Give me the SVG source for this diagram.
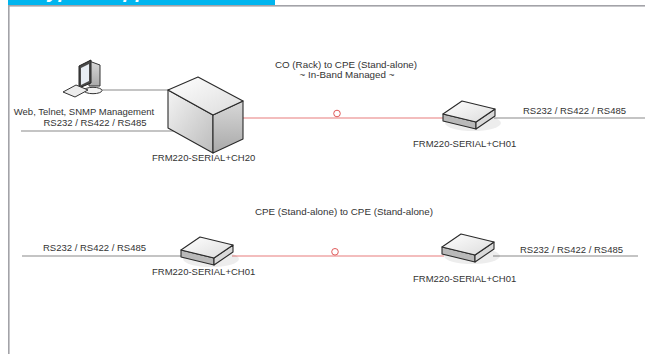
<svg xmlns="http://www.w3.org/2000/svg" width="645" height="354" viewBox="0 0 645 354">
  <style>
    .lbl { font-family: "Liberation Sans", Arial, sans-serif; font-size: 9.5px; fill: #333; }
    .ttl { font-family: "Liberation Sans", Arial, sans-serif; font-size: 9.8px; fill: #333; text-anchor: middle; }
    .serial { stroke: #8a8a8a; stroke-width: 1.2; fill: none; }
    .fiber { stroke: #e77c7c; stroke-width: 1.1; fill: none; }
    .ring { stroke: #e05a5a; stroke-width: 1; fill: #fff; }
    .edge { stroke: #2a2a2a; stroke-width: 1.1; stroke-linejoin: round; }
  </style>
  <defs>
    <linearGradient id="topFace" x1="0" y1="0" x2="1" y2="1">
      <stop offset="0" stop-color="#ffffff"/>
      <stop offset="1" stop-color="#dcdcdc"/>
    </linearGradient>
    <linearGradient id="frontFace" x1="0" y1="0" x2="1" y2="1">
      <stop offset="0" stop-color="#f4f4f4"/>
      <stop offset="1" stop-color="#bcbcbc"/>
    </linearGradient>
    <linearGradient id="sideFace" x1="0" y1="0" x2="0" y2="1">
      <stop offset="0" stop-color="#d8d8d8"/>
      <stop offset="1" stop-color="#a9a9a9"/>
    </linearGradient>
    <!-- small stand-alone unit, origin at its left corner -->
    <g id="unit">
      <ellipse cx="30" cy="9" rx="28" ry="8" fill="#000" opacity="0.07"/>
      <polygon class="edge" points="0,7 33,15 33,8 0,0" fill="#b9b9b9"/>
      <polygon class="edge" points="33,15 52,2 52,-5 33,8" fill="#d9d9d9"/>
      <polygon class="edge" points="0,0 19,-13 52,-5 33,8" fill="url(#topFace)"/>
    </g>
  </defs>

  <!-- page frame and header bar -->
  <rect x="8" y="0" width="267" height="5.5" fill="#00b5ef"/>
  <text x="36" y="-2" font-family="'Liberation Sans', Arial, sans-serif" font-size="20" font-weight="bold" font-style="italic" fill="#fff">Typical Application</text>
  <rect x="8" y="5" width="637" height="1.6" fill="#a3a3a8"/>
  <rect x="8" y="5" width="1.6" height="349" fill="#a3a3a8"/>

  <!-- connectors -->
  <g id="connectors">
    <line class="serial" x1="102" y1="90" x2="170" y2="90"/>
    <line class="serial" x1="21" y1="131" x2="184" y2="131"/>
    <line class="fiber" x1="243" y1="118" x2="445" y2="118"/>
    <line class="serial" x1="494" y1="118" x2="645" y2="118"/>
    <circle class="ring" cx="337" cy="113.5" r="3.3"/>

    <line class="serial" x1="22" y1="256" x2="183" y2="256"/>
    <line class="fiber" x1="232" y1="256" x2="444" y2="256"/>
    <line class="serial" x1="493" y1="256" x2="638" y2="256"/>
    <circle class="ring" cx="335" cy="251.8" r="3.3"/>
  </g>

  <!-- section titles -->
  <text class="ttl" x="346" y="67.5">CO (Rack) to CPE (Stand-alone)</text>
  <text class="ttl" x="347" y="77.5">~ In-Band Managed ~</text>
  <text class="ttl" x="344" y="215">CPE (Stand-alone) to CPE (Stand-alone)</text>

  <!-- management PC -->
  <g id="pc">
    <text class="lbl" x="84" y="115" text-anchor="middle" font-size="9.2">Web, Telnet, SNMP Management</text>
    <text class="lbl" x="95" y="126" text-anchor="middle" font-size="10">RS232 / RS422 / RS485</text>
    <ellipse cx="93" cy="90.5" rx="9" ry="3.2" fill="#f2f2f2" stroke="#333" stroke-width="1"/>
    <polygon points="89,61 100,65 100,86 89,86" fill="url(#sideFace)" stroke="#333" stroke-width="1"/>
    <polygon points="79,66 91,60 91,83 79,88" fill="#4a4a4a" stroke="#222" stroke-width="1"/>
    <polygon points="81,68 89,64 89,81 81,85" fill="#e8eef4"/>
    <polygon points="63,92 76,85 88,90 75,97" fill="#ececec" stroke="#333" stroke-width="1"/>
  </g>

  <!-- CO rack chassis -->
  <g id="ch20">
    <polygon class="edge" points="168,90 213,115 213,153 168,128" fill="url(#frontFace)"/>
    <polygon class="edge" points="213,115 243,101 243,139 213,153" fill="url(#sideFace)"/>
    <polygon class="edge" points="168,90 198,77 243,101 213,115" fill="url(#topFace)"/>
    <text class="lbl" x="152" y="161">FRM220-SERIAL+CH20</text>
  </g>

  <!-- CPE, upper link -->
  <g id="ch01-a">
    <use href="#unit" x="443" y="114"/>
    <text class="lbl" x="413" y="147">FRM220-SERIAL+CH01</text>
    <text class="lbl" x="523" y="114" font-size="10">RS232 / RS422 / RS485</text>
  </g>

  <!-- CPE, lower link left -->
  <g id="ch01-b">
    <use href="#unit" x="181" y="250"/>
    <text class="lbl" x="152" y="275">FRM220-SERIAL+CH01</text>
    <text class="lbl" x="43" y="251" font-size="10">RS232 / RS422 / RS485</text>
  </g>

  <!-- CPE, lower link right -->
  <g id="ch01-c">
    <use href="#unit" x="442" y="247"/>
    <text class="lbl" x="413" y="282">FRM220-SERIAL+CH01</text>
    <text class="lbl" x="520" y="253" font-size="10">RS232 / RS422 / RS485</text>
  </g>
</svg>
